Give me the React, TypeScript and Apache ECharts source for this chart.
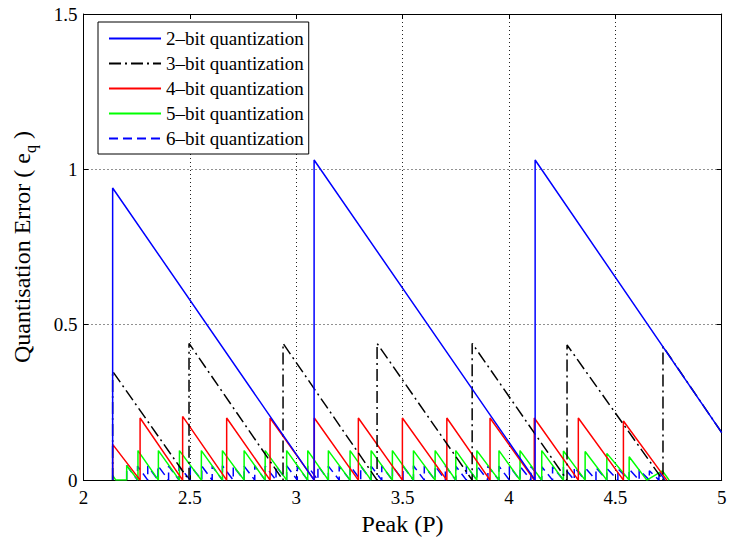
import React, { useEffect, useRef } from 'react';
import * as echarts from 'echarts';

// ---------- data ----------
const X_TICKS = [2, 2.5, 3, 3.5, 4, 4.5, 5];
const Y_TICKS = [0, 0.5, 1, 1.5];

const SERIES_NAMES = [
  '2–bit quantization',
  '3–bit quantization',
  '4–bit quantization',
  '5–bit quantization',
  '6–bit quantization',
];

// each sawtooth: positions where the error jumps up, the value it jumps to, then trailing points
const bit2Jumps = [2.137, 3.084, 4.123];
const bit2Peaks = [0.94, 1.03, 1.03];
const bit2Tail = [[5, 0.153]];

const bit3Jumps = [2.137, 2.496, 2.938, 3.38, 3.827, 4.273, 4.724];
const bit3Peaks = [0.35, 0.44, 0.44, 0.44, 0.44, 0.435, 0.43];
const bit3Tail = [[5, 0.153]];

const bit4Jumps = [2.137, 2.266, 2.466, 2.673, 2.877, 3.085, 3.292, 3.499, 3.708, 3.911, 4.119, 4.326, 4.538];
const bit4Peaks = [0.115, 0.2, 0.205, 0.2, 0.2, 0.2, 0.2, 0.2, 0.2, 0.2, 0.2, 0.2, 0.19];
const bit4Tail = [[4.742, 0]];

const bit5Jumps = [
  2.137, 2.152, 2.203, 2.256, 2.352, 2.451, 2.554, 2.653, 2.755, 2.854, 2.955, 3.054, 3.151,
  3.253, 3.352, 3.452, 3.551, 3.653, 3.75, 3.849, 3.953, 4.052, 4.154, 4.256, 4.358, 4.46, 4.565,
];
const bit5Peaks = [
  0.015, 0, 0.047, 0.095, 0.095, 0.095, 0.095, 0.095, 0.095, 0.095, 0.095, 0.095, 0.095,
  0.095, 0.095, 0.095, 0.095, 0.095, 0.095, 0.095, 0.095, 0.095, 0.095, 0.094, 0.092, 0.086, 0.075,
];
const bit5Tail = [[4.648, 0], [4.721, 0.03], [4.753, 0]];

const bit6Jumps = [
  2.203, 2.254, 2.302, 2.35, 2.4, 2.449, 2.502, 2.556, 2.605, 2.653, 2.704, 2.755, 2.805,
  2.854, 2.905, 2.955, 3.005, 3.054, 3.102, 3.151, 3.202, 3.253, 3.303, 3.352, 3.402, 3.452,
  3.502, 3.551, 3.602, 3.653, 3.701, 3.75, 3.8, 3.849, 3.901, 3.953, 4.002, 4.052, 4.103,
  4.154, 4.205, 4.256, 4.307, 4.358, 4.409, 4.46, 4.512, 4.565, 4.612, 4.66, 4.705,
];
const bit6Peaks = [
  0.047, 0.045, 0.045, 0.046, 0.045, 0.045, 0.046, 0.045, 0.045, 0.046, 0.045, 0.045, 0.046,
  0.045, 0.045, 0.046, 0.045, 0.045, 0.046, 0.045, 0.045, 0.046, 0.045, 0.045, 0.046, 0.045,
  0.045, 0.046, 0.045, 0.045, 0.046, 0.045, 0.045, 0.046, 0.045, 0.045, 0.045, 0.044, 0.044,
  0.043, 0.043, 0.042, 0.041, 0.04, 0.04, 0.038, 0.037, 0.035, 0.033, 0.03, 0.028,
];
const bit6Tail = [[4.733, 0]];

// ---------- helpers ----------
function sawtooth(jumps: number[], peaks: number[], tail: number[][]) {
  const pts: number[][] = [];
  jumps.forEach((x, i) => {
    pts.push([x, 0]);
    pts.push([x, peaks[i]]);
  });
  return pts.concat(tail);
}

const FONT = '"Liberation Serif", "Times New Roman", Times, serif';

const SERIES_DATA = [
  sawtooth(bit2Jumps, bit2Peaks, bit2Tail),
  sawtooth(bit3Jumps, bit3Peaks, bit3Tail),
  sawtooth(bit4Jumps, bit4Peaks, bit4Tail),
  sawtooth(bit5Jumps, bit5Peaks, bit5Tail),
  sawtooth(bit6Jumps, bit6Peaks, bit6Tail),
];

const SERIES_COLORS = ['#0000ff', '#000000', '#ff0000', '#00ff00', '#0000ff'];
const SERIES_DASH: any[] = ['solid', [12, 4, 2, 4], 'solid', 'solid', [9, 5]];

export default function App() {
  const ref = useRef<HTMLDivElement>(null);

  useEffect(() => {
    if (!ref.current) return;
    const chart = echarts.init(ref.current, null, { renderer: 'svg' });

    const xMin = X_TICKS[0];
    const xMax = X_TICKS[X_TICKS.length - 1];
    const yMin = Y_TICKS[0];
    const yMax = Y_TICKS[Y_TICKS.length - 1];

    const axisLine = { show: true, onZero: false, lineStyle: { color: '#000', width: 1 } };
    const axisTick = { show: true, inside: true, length: 5, lineStyle: { color: '#000', width: 1 } };
    const gridLine = { show: true, lineStyle: { color: '#222', width: 1, type: [1, 3] as any } };
    const tickLabel = { color: '#000', fontFamily: FONT, fontSize: 19 };

    chart.setOption({
      animation: false,
      backgroundColor: '#fff',
      grid: { left: 83.5, right: 15.3, top: 14, bottom: 52.5, containLabel: false },
      legend: {
        orient: 'vertical',
        left: 98,
        top: 22,
        itemWidth: 52,
        itemHeight: 14,
        itemGap: 6,
        padding: [7, 5, 6, 10],
        borderColor: '#000',
        borderWidth: 1,
        backgroundColor: '#fff',
        itemStyle: { opacity: 0, borderWidth: 0 },
        textStyle: { color: '#000', fontFamily: FONT, fontSize: 19 },
        data: SERIES_NAMES,
      },
      xAxis: [
        {
          type: 'value',
          position: 'bottom',
          min: xMin,
          max: xMax,
          interval: 0.5,
          name: 'Peak (P)',
          nameLocation: 'middle',
          nameGap: 25,
          nameTextStyle: { color: '#000', fontFamily: FONT, fontSize: 24 },
          axisLine,
          axisTick,
          axisLabel: { ...tickLabel, margin: 8 },
          splitLine: gridLine,
        },
        {
          type: 'value',
          position: 'top',
          min: xMin,
          max: xMax,
          interval: 0.5,
          axisLine,
          axisTick,
          axisLabel: { show: false },
          splitLine: { show: false },
        },
      ],
      yAxis: [
        {
          type: 'value',
          position: 'left',
          min: yMin,
          max: yMax,
          interval: 0.5,
          name: '{main|Quantisation Error ( e}{sub|q}{main| )}',
          nameLocation: 'middle',
          nameGap: 45,
          nameRotate: 90,
          nameTextStyle: {
            color: '#000',
            fontFamily: FONT,
            fontSize: 24,
            rich: {
              main: { fontFamily: FONT, fontSize: 24, lineHeight: 34, color: '#000' },
              sub: { fontFamily: FONT, fontSize: 16, lineHeight: 16, verticalAlign: 'bottom', color: '#000' },
            },
          },
          axisLine,
          axisTick,
          axisLabel: { ...tickLabel, margin: 6 },
          splitLine: gridLine,
        },
        {
          type: 'value',
          position: 'right',
          min: yMin,
          max: yMax,
          interval: 0.5,
          axisLine,
          axisTick,
          axisLabel: { show: false },
          splitLine: { show: false },
        },
      ],
      series: SERIES_NAMES.map((name, i) => ({
        name,
        type: 'line',
        xAxisIndex: 0,
        yAxisIndex: 0,
        data: SERIES_DATA[i],
        symbol: 'none',
        showSymbol: false,
        lineStyle: { color: SERIES_COLORS[i], width: 1.5, type: SERIES_DASH[i] },
        itemStyle: { color: SERIES_COLORS[i] },
        z: 2 + (4 - i) * 0.01,
      })),
    });

    return () => chart.dispose();
  }, []);

  return (
    <div
      ref={ref}
      style={{ position: 'fixed', left: 0, top: 0, width: 737, height: 541, background: '#fff' }}
    />
  );
}
